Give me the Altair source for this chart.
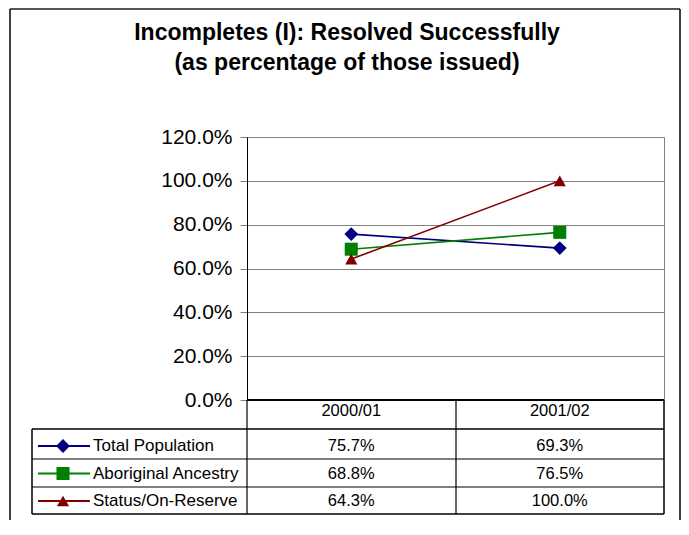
import altair as alt
import pandas as pd

# ---- data ----
years = ["2000/01", "2001/02"]
series = ["Total Population", "Aboriginal Ancestry", "Status/On-Reserve"]
total_population = [75.7, 69.3]
aboriginal_ancestry = [68.8, 76.5]
status_on_reserve = [64.3, 100.0]
y_ticks = [0, 20, 40, 60, 80, 100, 120]
title_lines = ["Incompletes (I): Resolved Successfully", "(as percentage of those issued)"]

colors = ["#000080", "#008000", "#800000"]
shapes = ["diamond", "square", "triangle-up"]

rows = []
for s, vals in zip(series, [total_population, aboriginal_ancestry, status_on_reserve]):
    for yr, v in zip(years, vals):
        rows.append({"series": s, "year": yr, "value": v, "label": f"{v:.1f}%"})
df = pd.DataFrame(rows)
series_df = pd.DataFrame({"series": series})
years_df = pd.DataFrame({"year": years})

FONT = "Liberation Sans"
W, H = 417, 263

x_enc = alt.X("year:N", scale=alt.Scale(domain=years, type="point", padding=0.5), axis=None)
color_enc = alt.Color("series:N", scale=alt.Scale(domain=series, range=colors), legend=None)
shape_enc = alt.Shape("series:N", scale=alt.Scale(domain=series, range=shapes), legend=None)
y_enc = alt.Y(
    "value:Q",
    scale=alt.Scale(domain=[0, 120], nice=False),
    axis=alt.Axis(
        values=y_ticks,
        labelExpr="format(datum.value, '.1f') + '%'",
        grid=True, gridColor="#808080", gridWidth=1,
        domainColor="#000000", domainWidth=1,
        tickColor="#808080", tickSize=7, tickWidth=1,
        labelFont=FONT, labelFontSize=21, labelColor="#000000", labelPadding=8,
        title=None,
    ),
)

lines = alt.Chart(df).mark_line(strokeWidth=1.6).encode(x=x_enc, y=y_enc, color=color_enc)
points = alt.Chart(df).mark_point(filled=True, opacity=1).encode(
    x=x_enc, y=alt.Y("value:Q"), color=color_enc, shape=shape_enc,
    size=alt.Size("series:N", scale=alt.Scale(domain=series, range=[190, 150, 380]), legend=None),
)
zero_line = alt.Chart(pd.DataFrame({"value": [0]})).mark_rule(color="black", strokeWidth=2).encode(
    y=alt.Y("value:Q"), x=alt.value(0), x2=alt.value(W)
)
plot = alt.layer(lines, points, zero_line)

# ---- data table ----
row_y = alt.Y("series:N", scale=alt.Scale(domain=series, type="point", range=[309, 364], padding=0), axis=None)

cells = alt.Chart(df).mark_text(font=FONT, fontSize=16.5, color="black", baseline="middle").encode(
    x=x_enc, y=row_y, text="label:N"
)
header = alt.Chart(years_df).mark_text(font=FONT, fontSize=16.5, color="black", baseline="middle").encode(
    x=x_enc, y=alt.value(274), text="year:N"
)
leg_text = alt.Chart(series_df).mark_text(font=FONT, fontSize=17, color="black", align="left", baseline="middle").encode(
    x=alt.value(-154), y=row_y, text="series:N"
)
leg_line = alt.Chart(series_df).mark_rule(strokeWidth=1.8).encode(
    x=alt.value(-209), x2=alt.value(-157), y=row_y, color=color_enc
)
leg_pt = alt.Chart(series_df).mark_point(filled=True, opacity=1).encode(
    x=alt.value(-184), y=row_y, color=color_enc, shape=shape_enc,
    size=alt.Size("series:N", scale=alt.Scale(domain=series, range=[80, 65, 140]), legend=None),
)
table = alt.layer(leg_line, leg_pt, leg_text, cells, header)


def seg(x1, x2, y1, y2, color="black", w=1.0):
    return alt.Chart(alt.Data(values=[{}])).mark_rule(color=color, strokeWidth=w).encode(
        x=alt.value(x1), x2=alt.value(x2), y=alt.value(y1), y2=alt.value(y2)
    )


grid_lines = [
    seg(-215, W, 292, 292, "black", 1.5),
    seg(-215, W, 322, 322, "#808080", 2),
    seg(-215, W, 350, 350, "#808080", 2),
    seg(-215, W, 377, 377, "black", 1.5),
    seg(0, 0, 263, 377, "black", 1.2),
    seg(209, 209, 263, 377, "black", 1.2),
    seg(W, W, 263, 377, "black", 1.5),
    seg(-215, -215, 292, 377, "black", 1.5),
    # outer frame
    seg(-237, 433, -128, -128, "#555555", 2),
    seg(-237, -237, -128, 383, "black", 1.5),
    seg(433, 433, -128, 383, "black", 1.5),
]


def title_text(line, y):
    return alt.Chart(alt.Data(values=[{}])).mark_text(
        font=FONT, fontSize=23, fontWeight="bold", color="black", baseline="middle", align="center"
    ).encode(x=alt.value(100), y=alt.value(y), text=alt.value(line))


titles = [title_text(title_lines[0], -104), title_text(title_lines[1], -74)]

chart = alt.layer(plot, table, *grid_lines, *titles).resolve_scale(y="independent").properties(
    width=W,
    height=H,
    autosize=alt.AutoSizeParams(type="none"),
    padding={"left": 239, "top": 129, "right": 17, "bottom": 120},
    background="white",
).configure_view(stroke="#808080", strokeWidth=1)

chart.save("out.html", embed_options={"renderer": "svg", "actions": False})
